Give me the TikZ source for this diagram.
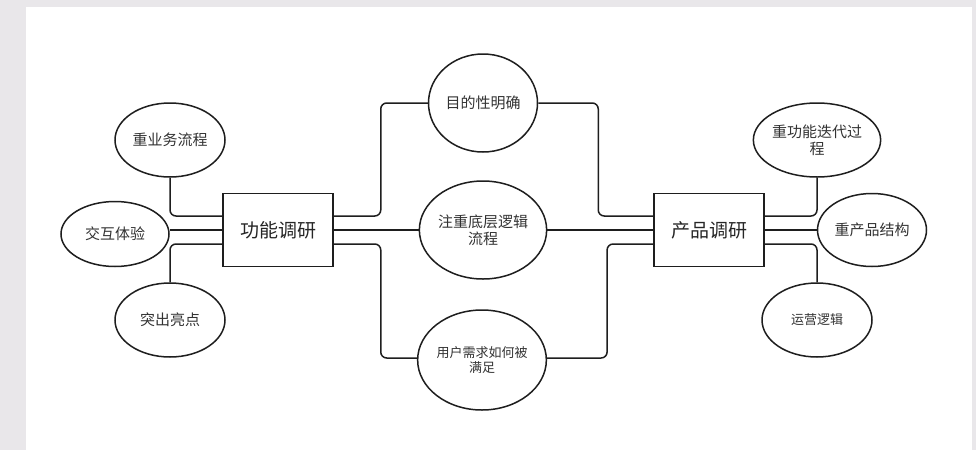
\documentclass[tikz,border=0pt]{standalone}
\usepackage{fontspec}
\newfontfamily\cjk{Noto Sans CJK SC}
\usepackage{xcolor}
\usepackage{tikz}
\usetikzlibrary{shapes.geometric,calc}
\definecolor{pagegray}{RGB}{233,231,234}
\definecolor{ink}{RGB}{30,30,30}
\tikzset{
  link/.style={line width=1.5pt, draw=ink, rounded corners=6pt},
  topic/.style={ellipse, draw=ink, line width=1.5pt, inner sep=0pt, align=center,
    minimum width=110pt, minimum height=74pt, text=black!80, font=\cjk\fontsize{15}{17}\selectfont},
  mid/.style={topic, minimum width=109pt, minimum height=98pt},
  hub/.style={rectangle, draw=ink, line width=1.5pt, minimum width=110pt, minimum height=73pt,
    text=black!85, font=\cjk\fontsize{19}{22}\selectfont}
}
\begin{document}
\begin{tikzpicture}[x=1pt, y=-1pt]
% page
\fill[pagegray] (0,0) rectangle (976,450);
\fill[white] (26,7) rectangle (972,450);
\useasboundingbox (0,0) rectangle (976,450);
% hubs
\node[hub] (fun) at (278,230) {功能调研};
\node[hub] (prod) at (709,230) {产品调研};
% left topics
\node[topic] (flow) at (170,140) {重业务流程};
\node[topic, minimum width=108pt, minimum height=65pt] (inter) at (115,234) {交互体验};
\node[topic] (high) at (170,320) {突出亮点};
% middle topics
\node[mid] (goal) at (483,103) {目的性明确};
\node[mid] (logic) at (483,230) {注重底层逻辑\\流程};
\node[mid, minimum height=100pt, font=\cjk\fontsize{13}{15}\selectfont] (need) at (482,360) {用户需求如何被\\满足};
% right topics
\node[topic] (iter) at (817,140) {重功能迭代过\\程};
\node[topic, minimum width=109pt, minimum height=73pt] (struct) at (872,230) {重产品结构};
\node[topic, font=\cjk\fontsize{13}{15}\selectfont] (ops) at (817,320) {运营逻辑};
% left links
\draw[link] ([yshift=14pt]fun.west) -| (flow.south);
\draw[link] (fun.west) -- (fun.west -| inter.east);
\draw[link] ([yshift=-14pt]fun.west) -| (high.north);
% middle links
\draw[link] ([yshift=14pt]fun.east) -- ++(47,0) |- (goal.west);
\draw[link] (fun.east) -- (logic.west);
\draw[link] ([yshift=-14pt]fun.east) -- ++(47,0) |- ([yshift=2pt]need.west);
\draw[link] (goal.east) -- ++(60,0) |- ([yshift=14pt]prod.west);
\draw[link] (logic.east) -- (prod.west);
\draw[link] ([yshift=2pt]need.east) -- ++(60,0) |- ([yshift=-14pt]prod.west);
% right links
\draw[link] ([yshift=14pt]prod.east) -| (iter.south);
\draw[link] (prod.east) -- (struct.west);
\draw[link] ([yshift=-14pt]prod.east) -| (ops.north);
\end{tikzpicture}
\end{document}
